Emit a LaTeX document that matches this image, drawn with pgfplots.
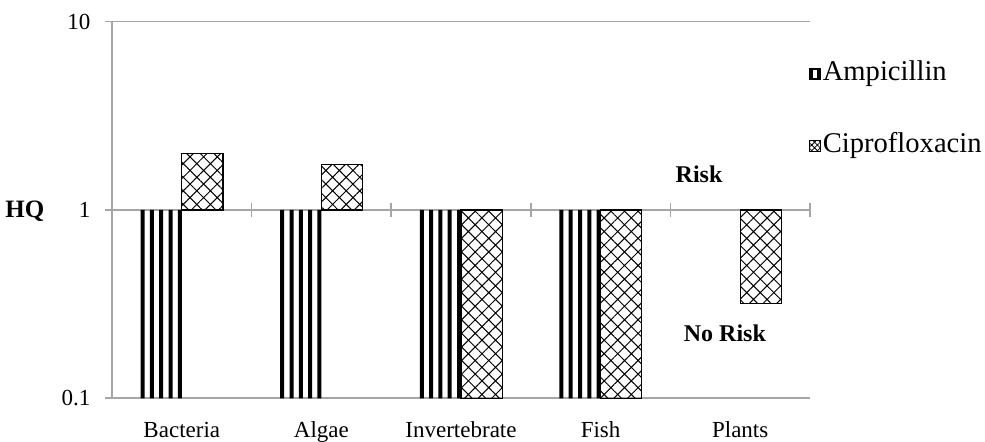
\documentclass[border=0pt]{standalone}
\usepackage{fontspec}
\setmainfont{Liberation Serif}
\usepackage{pgfplots}
\pgfplotsset{compat=1.18}
\usetikzlibrary{patterns.meta}
\definecolor{axgray}{RGB}{166,166,166}

\pgfplotstableread{
x amp
0 0.1
1 0.1
2 0.1
3 0.1
}\amptable
\pgfplotstableread{
x cip
0 2.0
1 1.75
2 0.1
3 0.1
4 0.32
}\ciptable

\begin{document}
\begin{tikzpicture}
\path[use as bounding box] (0,0) rectangle (492.5pt,221pt);
\begin{axis}[
  at={(56pt,21.85pt)}, anchor=south west,
  scale only axis, width=349pt, height=188.3pt,
  ymode=log, ymin=0.1, ymax=10,
  xmin=-0.5, xmax=4.5,
  ytick={0.1,1,10}, yticklabels={0.1,1,10},
  yminorticks=false,
  xtick={0,1,2,3,4},
  xticklabels={Bacteria,Algae,Invertebrate,Fish,Plants},
  axis x line*=bottom, axis y line*=left,
  axis line style={axgray, line width=0.8pt},
  ymajorgrids, grid style={axgray, line width=0.8pt},
  tick align=outside, major tick length=3.5pt,
  ytick style={axgray, line width=0.8pt},
  xtick style={draw=none},
  xticklabel style={font=\fontsize{11.5}{13}\selectfont, yshift=-4.8pt},
  yticklabel style={font=\fontsize{11.5}{13}\selectfont, xshift=-3.8pt},
  legend style={at={(axis description cs:0.998,0.903)}, anchor=north west,
    draw=none, fill=none, inner sep=0pt,
    font=\fontsize{14.3}{17}\selectfont, row sep=21pt,
    nodes={inner sep=1pt, text height=10pt, text depth=3pt}},
  legend cell align=left,
  clip=false,
]
\pgfplotsinvokeforeach{-19.6,-14.95,-10.3,-5.65,-0.99}{
  \addplot[ybar, bar width=2pt, bar shift=#1pt, fill=black, draw=none, forget plot]
    table[x=x,y=amp]{\amptable};
}
\addlegendimage{legend image code/.code={
  \fill[black] (0pt,-2.8pt) rectangle (5.5pt,2.8pt);
  \fill[white] (2.1pt,-1.8pt) rectangle (3.4pt,1.8pt);}}
\addlegendentry{Ampicillin}
\addplot[ybar, bar width=20.6pt, bar shift=10.3pt, draw=black, line width=0.6pt,
  pattern={Hatch[angle=45, distance=4.8pt, line width=0.5pt]}, pattern color=black,
  legend image code/.code={
    \draw[black, line width=0.5pt, pattern={Hatch[angle=45, distance=2pt, line width=0.4pt]}, pattern color=black] (0pt,-2.8pt) rectangle (5.5pt,2.8pt);}]
  table[x=x,y=cip]{\ciptable};
\addlegendentry{Ciprofloxacin}
\draw[axgray, line width=0.8pt] ([yshift=-3.5pt]axis cs:0.5,1) -- ([yshift=3.5pt]axis cs:0.5,1);
\draw[axgray, line width=0.8pt] ([yshift=-3.5pt]axis cs:1.5,1) -- ([yshift=3.5pt]axis cs:1.5,1);
\draw[axgray, line width=0.8pt] ([yshift=-3.5pt]axis cs:2.5,1) -- ([yshift=3.5pt]axis cs:2.5,1);
\draw[axgray, line width=0.8pt] ([yshift=-3.5pt]axis cs:3.5,1) -- ([yshift=3.5pt]axis cs:3.5,1);
\draw[axgray, line width=0.8pt] ([yshift=-3.5pt]axis cs:4.5,1) -- ([yshift=3.5pt]axis cs:4.5,1);
\node[font=\bfseries\fontsize{12}{14}\selectfont] at (rel axis cs:0.841,0.596) {Risk};
\node[font=\bfseries\fontsize{12}{14}\selectfont] at (rel axis cs:0.878,0.173) {No Risk};
\node[font=\bfseries\fontsize{12.5}{14}\selectfont] at (axis description cs:-0.125,0.4955) {HQ};
\end{axis}
\end{tikzpicture}
\end{document}
